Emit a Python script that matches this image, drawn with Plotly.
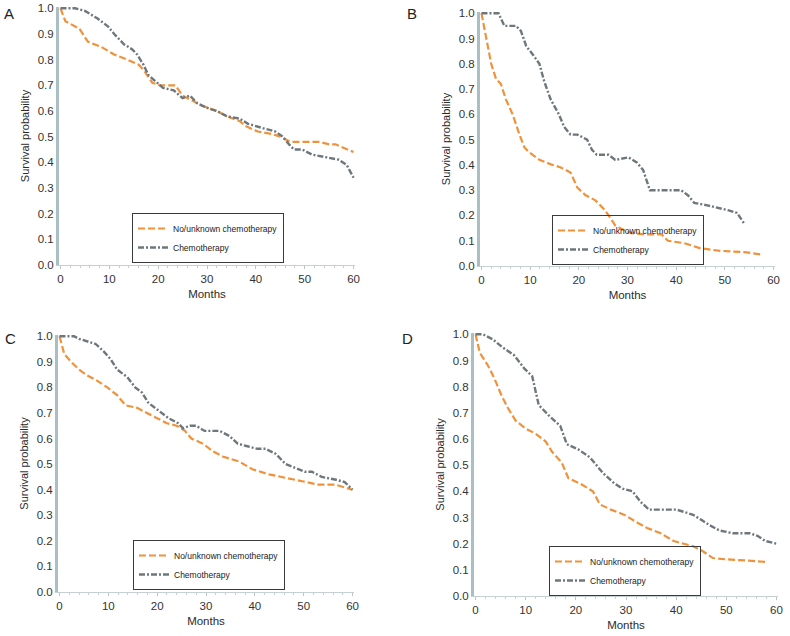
import plotly.graph_objects as go

# ---------------- data ----------------
a_no_x = [0, 1, 3.9, 5.6, 8.3, 11, 13.7, 16, 17, 18.8, 20.5, 23.5, 25, 27, 29, 32, 34, 36.7, 38, 40.4, 43.4, 45, 47, 53, 55, 56.3, 57.6, 60]
a_no_y = [1.0, 0.95, 0.92, 0.87, 0.85, 0.82, 0.80, 0.78, 0.76, 0.71, 0.70, 0.70, 0.66, 0.64, 0.62, 0.60, 0.58, 0.56, 0.54, 0.52, 0.51, 0.50, 0.48, 0.48, 0.47, 0.47, 0.46, 0.44]
a_ch_x = [0, 3, 5, 7.6, 9.7, 11, 13, 14.7, 15.7, 17, 18, 19.8, 21, 23.2, 25, 26.5, 28, 30.3, 32, 34, 36.7, 38.4, 40, 42, 44, 45.5, 46.8, 47.8, 49.5, 51.5, 54.3, 57, 58.6, 60]
a_ch_y = [1.0, 1.0, 0.99, 0.96, 0.93, 0.90, 0.86, 0.84, 0.82, 0.78, 0.74, 0.71, 0.69, 0.68, 0.65, 0.66, 0.63, 0.61, 0.60, 0.58, 0.57, 0.55, 0.54, 0.53, 0.52, 0.50, 0.47, 0.45, 0.45, 0.43, 0.42, 0.41, 0.39, 0.34]

b_no_x = [0, 0.7, 2, 3, 4, 5, 6.4, 7.8, 8.8, 9.8, 11.9, 14.6, 16.3, 18.3, 19.7, 21.4, 23.4, 25.4, 27.5, 29.5, 30.8, 33.6, 37, 38.3, 41.7, 45, 49, 54, 57.6]
b_no_y = [1.0, 0.93, 0.80, 0.74, 0.72, 0.66, 0.60, 0.52, 0.47, 0.45, 0.42, 0.40, 0.39, 0.37, 0.31, 0.28, 0.26, 0.22, 0.16, 0.14, 0.13, 0.125, 0.125, 0.10, 0.09, 0.07, 0.06, 0.055, 0.045]
b_ch_x = [0, 3.5, 4.7, 7.1, 8.1, 9.2, 10.8, 11.9, 12.9, 14.2, 15.9, 17, 18.3, 19.7, 21.7, 22.7, 23.7, 26.1, 27.5, 30.2, 31.9, 33.2, 34.6, 37, 41, 42.4, 43.7, 46.4, 48.8, 50.8, 52.5, 53.9]
b_ch_y = [1.0, 1.0, 0.95, 0.95, 0.93, 0.87, 0.83, 0.80, 0.73, 0.66, 0.60, 0.55, 0.52, 0.52, 0.50, 0.46, 0.44, 0.44, 0.42, 0.43, 0.41, 0.38, 0.30, 0.30, 0.30, 0.28, 0.25, 0.24, 0.23, 0.22, 0.21, 0.17]

c_no_x = [0, 1, 2.4, 4, 5.4, 7.4, 9.8, 11.8, 13.5, 15.9, 17.9, 19.9, 22, 24, 25.7, 27, 29.4, 31.4, 33.4, 36.8, 39.5, 42.9, 45.6, 48.3, 51, 53, 56.4, 58.4, 60]
c_no_y = [1.0, 0.93, 0.90, 0.87, 0.85, 0.83, 0.80, 0.77, 0.73, 0.72, 0.70, 0.68, 0.66, 0.65, 0.63, 0.60, 0.58, 0.55, 0.53, 0.51, 0.48, 0.46, 0.45, 0.44, 0.43, 0.42, 0.42, 0.41, 0.40]
c_ch_x = [0, 3, 4, 5.7, 7.4, 9.1, 10.5, 11.8, 13.9, 15.5, 16.9, 18.2, 20.3, 22.3, 24.3, 25.3, 26.7, 28, 29.7, 32.8, 34.8, 36.5, 38.5, 40.5, 42.2, 44.3, 46.3, 47.6, 50.3, 51.7, 53.7, 56.4, 58.4, 60]
c_ch_y = [1.0, 1.0, 0.99, 0.98, 0.97, 0.94, 0.91, 0.87, 0.84, 0.80, 0.78, 0.74, 0.71, 0.68, 0.66, 0.64, 0.65, 0.65, 0.63, 0.63, 0.61, 0.58, 0.57, 0.56, 0.56, 0.54, 0.50, 0.49, 0.47, 0.47, 0.45, 0.44, 0.43, 0.40]

d_no_x = [0, 0.85, 2.5, 3.8, 5.1, 6.4, 8, 10, 12, 14, 15.3, 17.2, 18.5, 20.8, 23.4, 24.8, 27, 29.7, 32.3, 34.2, 36.9, 39.5, 43.4, 45.4, 47.3, 50, 54.5, 58.2]
d_no_y = [1.0, 0.93, 0.88, 0.83, 0.77, 0.72, 0.67, 0.64, 0.62, 0.59, 0.55, 0.51, 0.45, 0.43, 0.40, 0.35, 0.33, 0.31, 0.28, 0.26, 0.24, 0.21, 0.19, 0.17, 0.145, 0.14, 0.135, 0.13]
d_ch_x = [0, 1.5, 3.5, 5.4, 7.7, 9.7, 11.3, 12.6, 14.6, 16.9, 18.2, 20.5, 22.8, 24.1, 25.4, 27.7, 29.3, 31.3, 32.9, 34.6, 36.9, 40.1, 41.8, 43.4, 45.1, 46.7, 48.7, 51.3, 54.6, 56.2, 57.8, 60]
d_ch_y = [1.0, 1.0, 0.98, 0.95, 0.92, 0.87, 0.84, 0.73, 0.69, 0.65, 0.58, 0.56, 0.53, 0.50, 0.47, 0.43, 0.41, 0.40, 0.36, 0.33, 0.33, 0.33, 0.32, 0.31, 0.29, 0.27, 0.25, 0.24, 0.24, 0.23, 0.21, 0.20]

series_names = ["No/unknown chemotherapy", "Chemotherapy"]
panel_labels = ["A", "B", "C", "D"]
x_ticks = [0, 10, 20, 30, 40, 50, 60]
y_ticks = [0.0, 0.1, 0.2, 0.3, 0.4, 0.5, 0.6, 0.7, 0.8, 0.9, 1.0]

panels = [
    (a_no_x, a_no_y, a_ch_x, a_ch_y),
    (b_no_x, b_no_y, b_ch_x, b_ch_y),
    (c_no_x, c_no_y, c_ch_x, c_ch_y),
    (d_no_x, d_no_y, d_ch_x, d_ch_y),
]

# ---------------- layout geometry (pixels) ----------------
W, H = 790, 636
# plot boxes: (left, right, top, bottom) in px
boxes = [(59, 355, 7, 265), (480, 775, 12, 266), (58, 354, 335, 592), (474, 778, 333, 596)]
# legend (left, bottom) in px
legend_pos = [(132, 263), (552, 265), (133, 590), (549, 596)]
label_pos = [(2, 13), (405, 13), (3, 338), (400, 338)]

ORANGE = "#f0923b"
GRAY = "#6e777c"
FONT = "Liberation Sans, Arial, sans-serif"

fig = go.Figure()
for i, (nx, ny, cx, cy) in enumerate(panels):
    k = "" if i == 0 else str(i + 1)
    leg = "legend" if i == 0 else f"legend{i+1}"
    fig.add_trace(go.Scatter(x=nx, y=ny, mode="lines", name=series_names[0],
                             line=dict(color=ORANGE, width=2.2, dash="7px,3px"),
                             xaxis="x" + k, yaxis="y" + k, legend=leg, hoverinfo="skip"))
    fig.add_trace(go.Scatter(x=cx, y=cy, mode="lines", name=series_names[1],
                             line=dict(color=GRAY, width=2.4, dash="6px,2px,2px,2px"),
                             xaxis="x" + k, yaxis="y" + k, legend=leg, hoverinfo="skip"))

layout = dict(width=W, height=H, margin=dict(l=0, r=0, t=0, b=0, autoexpand=False),
              paper_bgcolor="white", plot_bgcolor="white",
              font=dict(family=FONT, size=11, color="#2b2b2b"),
              annotations=[])

for i, (l, r, t, b) in enumerate(boxes):
    k = "" if i == 0 else str(i + 1)
    xd = [l / W, r / W]
    yd = [(H - b) / H, (H - t) / H]
    layout["xaxis" + k] = dict(domain=xd, range=[-0.3, 60.3], anchor="y" + k, automargin=False,
                               tickvals=x_ticks, ticks="outside", ticklen=3, tickcolor="#b8c6c8",
                               showline=True, linecolor="#c4d0d2", linewidth=1,
                               showgrid=False, zeroline=False,
                               minor=dict(ticks="outside", ticklen=2, tickcolor="#c4d0d2", dtick=2),
                               title=dict(text="Months", font=dict(size=11.5), standoff=6),
                               tickfont=dict(size=11.5, color="#333"))
    layout["yaxis" + k] = dict(domain=yd, range=[0, 1.005], anchor="x" + k, automargin=False,
                               tickvals=y_ticks, ticktext=[f"{v:.1f}" for v in y_ticks],
                               ticks="", showline=True, linecolor="#a9bfc3", linewidth=3,
                               showgrid=False, zeroline=False,
                               title=dict(text="Survival probability", font=dict(size=11), standoff=6),
                               tickfont=dict(size=11.5, color="#333"))
    lx, ly = legend_pos[i]
    lg = dict(x=lx / W, y=(H - ly) / H, xanchor="left", yanchor="bottom",
              bordercolor="#3a3a3a", borderwidth=1, bgcolor="rgba(255,255,255,0)",
              font=dict(size=8.5, color="#222"), tracegroupgap=0,
              itemwidth=30)
    layout["legend" if i == 0 else f"legend{i+1}"] = lg
    px, py = label_pos[i]
    layout["annotations"].append(dict(text=panel_labels[i], x=px / W, y=(H - py) / H,
                                      xref="paper", yref="paper", xanchor="left", yanchor="middle",
                                      showarrow=False, font=dict(size=15, color="#222")))

fig.update_layout(**layout)
fig.write_html("out.html", config={"displayModeBar": False},
               post_script="document.body.style.margin='0';document.body.style.overflow='hidden';")
